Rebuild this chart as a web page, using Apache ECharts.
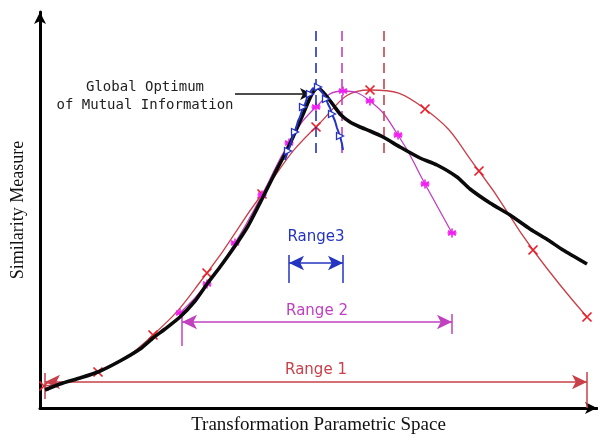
<!DOCTYPE html>
<html>
<head>
<meta charset="utf-8">
<script src="https://cdn.jsdelivr.net/npm/echarts@6/dist/echarts.min.js"></script>
<style>html,body{margin:0;padding:0;background:#fff}#c{width:598px;height:435px}</style>
</head>
<body>
<div id="c"></div>
<script>
// Values (abstract parameter / similarity units)
const blackCurve = [[5,18],[20,24],[40,30],[58,36],[80,47],[100,59],[113,70],[125,79],[140,91],[155,107],[167,124],[180,141],[195,162],[208,182],[222,209],[235,235],[248,260],[257,280],[264,296],[270,310],[274,317],[278,320],[283,316],[288,310],[294,302],[301,293],[310,286],[320,281],[330,277],[343,271],[360,261],[380,250],[397,243],[417,231],[430,219],[450,205],[470,193],[490,179],[508,168],[523,158],[547,144]];
const redX = [4,58,113,167,222,276,330,385,439,493,547];
const redY = [22,36,73,135,214,281,318,299,237,158,91];
const magentaX = [140,167,195,222,249,276,303,330,358,385,412];
const magentaY = [95,124,165,213,265,301,317,307,273,224,175];
const blueCurve = [[245,248],[248,257],[250,262],[253,272],[255,276],[258,287],[260,291],[263,301],[265,304],[268,313],[270,314],[273,320],[276,318],[278,321],[281,317],[284,313],[286,309],[288,304],[290,300],[292,294],[295,287],[297,280],[300,272],[302,264],[303,258]];
const peakX = {blue:276, magenta:302, red:344};
const range1 = [5,547];
const range2 = [142,412];
const range3 = [249,303];
const rangeLabels = ['Range 1','Range 2','Range3'];
const annotation = ['Global Optimum','of Mutual Information'];
const axisNames = ['Transformation Parametric Space','Similarity Measure'];

const RED='#c8404a', REDM='#e8202a', MAG='#c040c0', MAGM='#f020f0', BLUE='#2434c0';
const X_SYM='path://M0,0L10,10M10,0L0,10';
const STAR_SYM='path://M5,0L5,10M0.67,2.5L9.33,7.5M9.33,2.5L0.67,7.5M0,5L10,5';
const TRI_SYM='path://M0,0L10,5L0,10Z';

function vbar(x,y0,y1,color){return [{coord:[x,y0],lineStyle:{color:color,width:1.5,type:'solid'},symbol:'none',label:{show:false}},{coord:[x,y1],symbol:'none'}];}
function dashed(x,color){return [{coord:[x,255],lineStyle:{color:color,width:1.6,type:[10,6]},symbol:'none',label:{show:false}},{coord:[x,383],symbol:'none'}];}
function rangeLine(r,y,color,label,dist){return [{coord:[r[0],y],lineStyle:{color:color,width:1.5,type:'solid'},symbol:'arrow',symbolSize:[11,15],
  label:{show:true,position:'middle',formatter:label,color:color,fontFamily:'DejaVu Sans',fontSize:15,distance:dist}},{coord:[r[1],y],symbol:'arrow',symbolSize:[11,15]}];}

const chart = echarts.init(document.getElementById('c'), null, {renderer:'canvas'});
chart.setOption({
  animation:false,
  backgroundColor:'#fff',
  grid:{left:40,right:1,top:12,bottom:27,containLabel:false,outerBoundsMode:'none'},
  xAxis:{type:'value',min:0,max:557,name:axisNames[0],nameLocation:'middle',nameGap:8,
    nameTextStyle:{fontFamily:'Liberation Serif',fontSize:19,color:'#111'},
    axisLine:{show:true,onZero:false,symbol:['none','arrow'],symbolSize:[9,12],lineStyle:{color:'#000',width:3}},
    axisTick:{show:false},axisLabel:{show:false},splitLine:{show:false}},
  yAxis:{type:'value',min:0,max:396,name:axisNames[1],nameLocation:'middle',nameGap:13,nameRotate:90,
    nameTextStyle:{fontFamily:'Liberation Serif',fontSize:18,color:'#111'},
    axisLine:{show:true,onZero:false,symbol:['none','arrow'],symbolSize:[9,12],lineStyle:{color:'#000',width:3}},
    axisTick:{show:false},axisLabel:{show:false},splitLine:{show:false}},
  series:[
    {type:'line',name:'red',smooth:0.5,data:redX.map((x,i)=>[x,redY[i]]),
      lineStyle:{color:RED,width:1.3},symbol:X_SYM,symbolSize:9,
      itemStyle:{color:'transparent',borderColor:REDM,borderWidth:1.7},z:3,
      markLine:{silent:true,animation:false,data:[rangeLine(range1,26,RED,rangeLabels[0],4),vbar(range1[0],9,35,RED),vbar(range1[1],0,36,RED),dashed(peakX.red,RED)]}},
    {type:'line',name:'magenta',smooth:0.5,data:magentaX.map((x,i)=>[x,magentaY[i]]),
      lineStyle:{color:MAG,width:1.3},symbol:STAR_SYM,symbolSize:9,
      itemStyle:{color:'transparent',borderColor:MAGM,borderWidth:1.6},z:4,
      markLine:{silent:true,animation:false,data:[rangeLine(range2,86,MAG,rangeLabels[1],3),vbar(range2[0],62,96,MAG),vbar(range2[1],74,94,MAG),dashed(peakX.magenta,MAG)]}},
    {type:'line',name:'black',smooth:0.2,data:blackCurve,showSymbol:false,symbol:'none',
      lineStyle:{color:'#0a0a0a',width:3.6},z:5,
      markLine:{silent:true,animation:false,data:[[{coord:[195,314],symbol:'none',lineStyle:{color:'#111',width:1.5,type:'solid'},label:{show:false}},{coord:[272,314],symbol:'arrow',symbolSize:[9,12]}]]},
      markPoint:{silent:true,animation:false,data:[{coord:[105,312],symbol:'rect',symbolSize:1,itemStyle:{color:'transparent'},
        label:{show:true,position:'inside',formatter:annotation.join('\n'),fontFamily:'DejaVu Sans Mono',fontSize:14,lineHeight:18,color:'#222',align:'center'}}]}},
    {type:'line',name:'blue',data:blueCurve.map((v,i)=>({value:v,symbol:(i%3===1)?TRI_SYM:'none'})),
      lineStyle:{color:BLUE,width:2},symbolSize:[7,7],
      itemStyle:{color:'#fff',borderColor:BLUE,borderWidth:1.3},z:6,
      markLine:{silent:true,animation:false,data:[rangeLine(range3,145,BLUE,rangeLabels[2],18),vbar(range3[0],125,153,BLUE),vbar(range3[1],125,153,BLUE),dashed(peakX.blue,BLUE)]}}
  ]
});
</script>
</body>
</html>
